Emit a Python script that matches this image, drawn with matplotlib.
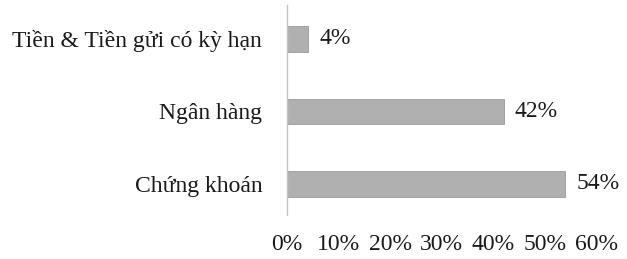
import matplotlib.pyplot as plt

categories = ["Tiền & Tiền gửi có kỳ hạn", "Ngân hàng", "Chứng khoán"]
values = [4, 42, 54]
xticks = [0, 10, 20, 30, 40, 50, 60]

plt.rcParams['font.family'] = ['Liberation Serif', 'DejaVu Serif']

fig = plt.figure(figsize=(6.27, 2.59), dpi=100)
ax = fig.add_axes([0.458, 0.17, 0.493, 0.811])

ypos = list(range(len(categories)))
ax.barh(ypos, values, height=0.35, color='#b0b0b0', edgecolor='#999999', lw=0.6)

for y, v in zip(ypos, values):
    ax.text(v + 2.2, y, f"{v}%", va='center', ha='left', fontsize=17, color='#1a1a1a')

ax.set_yticks(ypos)
ax.set_yticklabels(categories, fontsize=17, color='#1a1a1a')
ax.set_xticks(xticks)
ax.set_xticklabels([f"{t}%" for t in xticks], fontsize=17, color='#1a1a1a')
ax.set_xlim(0, 60)
ax.set_ylim(2.43, -0.47)

ax.tick_params(axis='y', length=0, pad=18)
ax.tick_params(axis='x', length=0, pad=14)
for s in ['top', 'right', 'bottom']:
    ax.spines[s].set_visible(False)
ax.spines['left'].set_color('#c4c4c4')
ax.spines['left'].set_linewidth(1)

fig.savefig("out.png", dpi=100, facecolor='white')
